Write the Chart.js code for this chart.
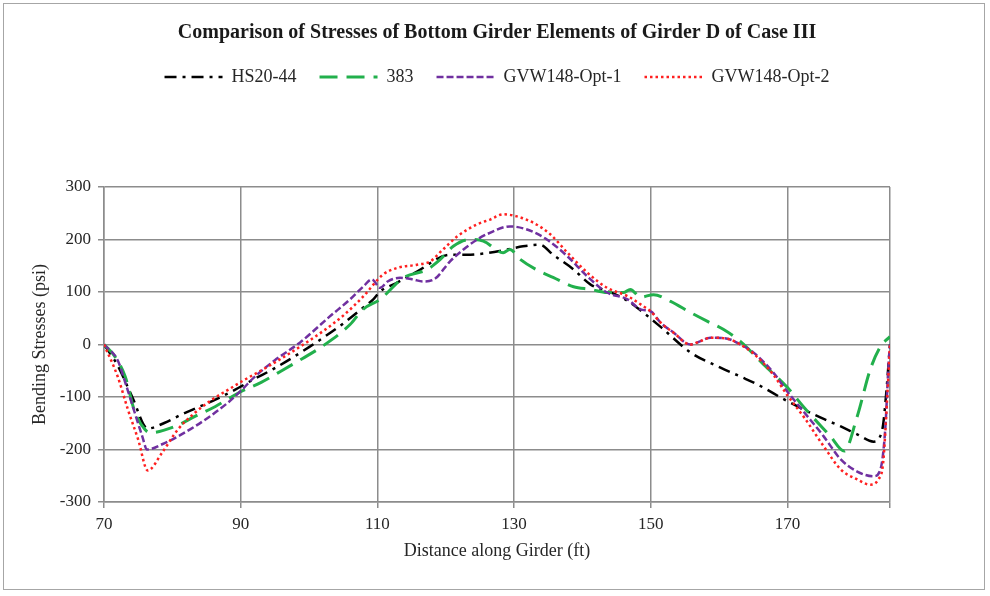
<!DOCTYPE html>
<html>
<head>
<meta charset="utf-8">
<title>Girder D stresses</title>
<script src="https://cdn.jsdelivr.net/npm/chart.js@4.4.1/dist/chart.umd.min.js"></script>
<style>
	body { margin: 0; background: #fff; }
	#frame { position: absolute; left: 3px; top: 3px; width: 982px; height: 587px; border: 1px solid #a6a6a6; box-sizing: border-box; }
</style>
</head>
<body>
<div id="frame"><canvas id="stresschart"></canvas></div>
<script>
// distance along girder (ft) and bending stress (psi) for each load case
var hsX = [70, 72, 74.1, 76.4, 78.9, 81.4, 86.3, 89.2, 91.8, 95, 100, 105, 107.9, 109.4, 110.4, 112.9, 115.8, 120.6, 123.1, 126, 129, 131.3, 133.8, 135.7, 138.7, 141.2, 143.6, 146, 148, 151.4, 155.8, 160.2, 163.1, 165.6, 170, 174.8, 177.8, 180.2, 182.6, 183.9, 184.4, 185];
var hsY = [0, -40, -99, -160, -149, -133, -105, -86, -67, -45, -5, 40, 70, 86, 101, 118, 139, 171, 171, 174, 181, 187, 190, 171, 143, 114, 102, 88, 70, 34, -15, -44, -61, -76, -108, -139, -156, -171, -185, -160, -100, 0];

var t383X = [70, 71.6, 73.1, 74.5, 76, 76.7, 80.4, 83.3, 86.3, 90, 93, 96, 99, 102, 106, 107.9, 110.4, 113.8, 117.3, 119.2, 121.1, 123.6, 125.5, 128.4, 129.4, 130.9, 133.8, 135.7, 138.7, 141.2, 143.6, 146, 147, 148.5, 150.4, 152.9, 155.8, 158.3, 160.6, 163.1, 166.5, 170, 172.3, 176.3, 178.3, 180.2, 182.1, 183.6, 185];
var t383Y = [0, -23, -61, -128, -162, -168, -156, -137, -118, -90, -72, -50, -27, -3, 38, 67, 86, 127, 143, 162, 187, 200, 197, 175, 181, 162, 139, 128, 110, 105, 99, 99, 105, 90, 95, 82, 61, 44, 29, 6, -38, -82, -118, -175, -203, -137, -48, -4, 15];

var opt1X = [70, 72, 73.1, 74.5, 75.6, 76.3, 78.5, 83.3, 88.2, 90.2, 92, 95, 98.7, 103, 106, 107.9, 109.2, 110.4, 111.5, 113.3, 115.2, 116.7, 118.5, 120.6, 122.6, 124.6, 126, 129.4, 131.9, 134.8, 137.8, 140.7, 143.6, 146.6, 148.5, 150, 151.4, 153.3, 155.8, 157.2, 158.7, 161.2, 163.1, 165, 167.9, 170, 172.5, 175.3, 177.8, 180.2, 182.6, 183.6, 184.3, 184.8, 185];
var opt1Y = [0, -30, -72, -130, -175, -200, -190, -156, -110, -86, -62, -30, 4, 53, 86, 110, 124, 108, 120, 127, 124, 120, 126, 158, 181, 200, 210, 225, 219, 200, 168, 130, 99, 86, 67, 63, 42, 23, 0, 6, 13, 11, 0, -15, -53, -90, -130, -175, -219, -242, -251, -238, -162, -34, 0];

var opt2X = [70, 72, 73.5, 75, 76.4, 78.5, 80.8, 83.3, 85.8, 88.2, 90.2, 94, 98.7, 102, 105, 107.9, 110.8, 112.9, 115.8, 117.7, 119.6, 121.7, 124.6, 126.5, 128.4, 130.4, 132.8, 135.3, 137.8, 140.7, 143.6, 146.6, 148.9, 150, 151.4, 153.3, 155.8, 157.2, 158.7, 161.2, 163.1, 165, 167.9, 170, 172.5, 175.3, 177.8, 180.2, 182.1, 183.3, 184, 184.6, 185];
var opt2Y = [0, -61, -124, -181, -240, -206, -162, -130, -105, -86, -70, -42, -4, 25, 55, 91, 133, 146, 152, 158, 181, 206, 229, 238, 248, 244, 232, 210, 175, 137, 108, 92, 73, 63, 42, 23, 0, 6, 13, 11, 0, -17, -57, -97, -140, -194, -238, -257, -267, -257, -225, -99, 0];

var seriesNames = ['HS20-44', '383', 'GVW148-Opt-1', 'GVW148-Opt-2'];
var xTicks = [70, 90, 110, 130, 150, 170];

function toPoints(xs, ys) {
	return xs.map(function (x, i) {
		return { x: x, y: ys[i] };
	});
}

// push the plot down, away from the legend
var legendGap = {
	id: 'legendGap',
	beforeInit: function (chart) {
		var fit = chart.legend.fit;
		chart.legend.fit = function () {
			fit.bind(chart.legend)();
			this.height = 142;
		};
	}
};

Chart.defaults.font.family = "'Liberation Serif', 'Times New Roman', serif";
Chart.defaults.color = '#262626';

var gridColor = '#8c8c8c';
var ctx = document.getElementById('stresschart').getContext('2d');
var stressChart = new Chart(ctx, {
	type: 'line',
	data: {
		datasets: [{
			label: seriesNames[0],
			data: toPoints(hsX, hsY),
			borderColor: '#000000',
			borderWidth: 2.5,
			borderDash: [12, 6, 3, 6],
			order: 4
		}, {
			label: seriesNames[1],
			data: toPoints(t383X, t383Y),
			borderColor: '#22b04c',
			borderWidth: 3,
			borderDash: [18, 9],
			order: 3
		}, {
			label: seriesNames[2],
			data: toPoints(opt1X, opt1Y),
			borderColor: '#7030a0',
			borderWidth: 2.5,
			borderDash: [7, 3],
			order: 2
		}, {
			label: seriesNames[3],
			data: toPoints(opt2X, opt2Y),
			borderColor: '#ff2020',
			borderWidth: 2.5,
			borderDash: [2.5, 3],
			order: 1
		}]
	},
	options: {
		responsive: true,
		maintainAspectRatio: false,
		animation: false,
		layout: {
			padding: { left: 25, right: 94, top: 0, bottom: 27 }
		},
		elements: {
			point: { radius: 0, hoverRadius: 0, pointStyle: 'line' },
			line: { cubicInterpolationMode: 'monotone', fill: false }
		},
		scales: {
			x: {
				type: 'linear',
				min: 70,
				max: 185,
				afterBuildTicks: function (scale) {
					scale.ticks = xTicks.map(function (v) { return { value: v }; }).concat([{ value: 185 }]);
				},
				afterFit: function (scale) {
					scale.height = 60;
				},
				ticks: {
					font: { size: 17 },
					color: '#262626',
					padding: 6,
					maxRotation: 0,
					callback: function (value) {
						return value === 185 ? '' : value;
					}
				},
				grid: { color: gridColor, lineWidth: 1.5, tickLength: 6 },
				border: { color: gridColor, width: 1.5 },
				title: {
					display: true,
					text: 'Distance along Girder (ft)',
					font: { size: 18 },
					color: '#262626',
					padding: { top: 0, bottom: 0 }
				}
			},
			y: {
				min: -300,
				max: 300,
				afterFit: function (scale) {
					scale.width = 75;
				},
				ticks: {
					stepSize: 100,
					font: { size: 17 },
					color: '#262626',
					padding: 7
				},
				grid: { color: gridColor, lineWidth: 1.5, tickLength: 6 },
				border: { color: gridColor, width: 1.5 },
				title: {
					display: true,
					text: 'Bending Stresses (psi)',
					font: { size: 18 },
					color: '#262626',
					padding: { top: 0, bottom: 0 }
				}
			}
		},
		plugins: {
			title: {
				display: true,
				fullSize: false,
				text: 'Comparison of Stresses of Bottom Girder Elements of Girder D of Case III',
				font: { size: 20, weight: 'bold' },
				color: '#1a1a1a',
				padding: { top: 17, bottom: 0 }
			},
			legend: {
				fullSize: false,
				labels: {
					usePointStyle: true,
					pointStyleWidth: 58,
					boxHeight: 10,
					padding: 23,
					font: { size: 18 },
					color: '#262626',
					generateLabels: function (chart) {
						var items = Chart.defaults.plugins.legend.labels.generateLabels(chart);
						items.forEach(function (item) {
							var ds = chart.data.datasets[item.datasetIndex];
							item.lineDash = ds.borderDash;
							item.lineWidth = ds.borderWidth;
							item.strokeStyle = ds.borderColor;
						});
						return items.sort(function (a, b) {
							return a.datasetIndex - b.datasetIndex;
						});
					}
				}
			},
			tooltip: { enabled: false }
		}
	},
	plugins: [legendGap]
});
</script>
</body>
</html>
